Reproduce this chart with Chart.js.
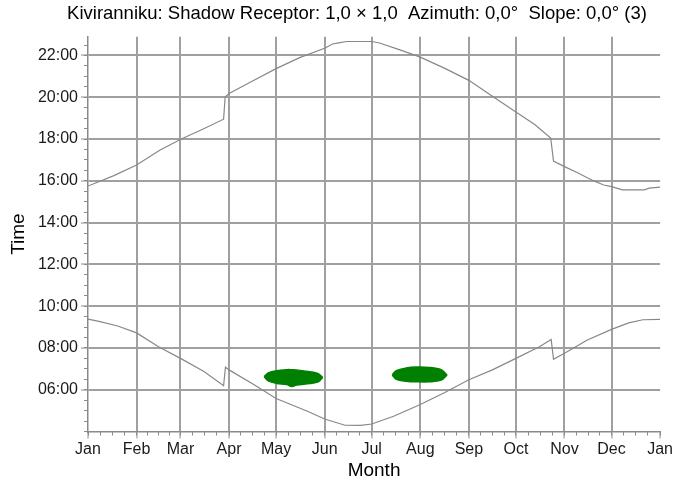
<!DOCTYPE html>
<html><head><meta charset="utf-8">
<script src="https://cdn.jsdelivr.net/npm/chart.js@4.4.1/dist/chart.umd.min.js"></script>
<style>html,body{margin:0;padding:0;background:#fff;}</style>
</head><body>
<canvas id="c" width="674" height="486" style="display:block;width:674px;height:486px"></canvas>
<script>
// ---------- data ----------
const chartTitle = 'Kiviranniku: Shadow Receptor: 1,0 × 1,0  Azimuth: 0,0°  Slope: 0,0° (3)';
const xTitle = 'Month';
const yTitle = 'Time';
const monthStarts = [0, 31, 59, 90, 120, 151, 181, 212, 243, 273, 304, 334, 365];
const monthLabels = ['Jan','Feb','Mar','Apr','May','Jun','Jul','Aug','Sep','Oct','Nov','Dec','Jan'];
const hourTicks = [6, 8, 10, 12, 14, 16, 18, 20, 22];

// sunset (upper curve): day of year, hour
const sunsetDays  = [0, 16.5, 31, 46, 59.5, 73.5, 86.5, 87.5, 90, 105, 120, 135, 151, 156, 160, 165, 181, 186, 199, 212, 228, 243, 258, 273, 285, 295.2, 297, 304, 312, 322, 329, 334, 341, 355, 358, 365];
const sunsetTimes = [15.75, 16.25, 16.76, 17.48, 18.0, 18.48, 18.95, 20.01, 20.18, 20.78, 21.37, 21.9, 22.35, 22.55, 22.6, 22.67, 22.67, 22.6, 22.27, 21.92, 21.37, 20.81, 20.05, 19.3, 18.7, 18.05, 16.95, 16.68, 16.4, 16.02, 15.8, 15.72, 15.57, 15.57, 15.65, 15.7];

// sunrise (lower curve)
const sunriseDays  = [0, 7, 19, 31, 45, 59, 74, 86.5, 87.7, 90, 106, 120, 140, 151, 164, 174, 181, 195, 212, 227, 243, 258, 273, 288, 295.5, 297, 304, 318.6, 334, 345, 354, 365];
const sunriseTimes = [9.38, 9.27, 9.05, 8.72, 8.06, 7.5, 6.87, 6.19, 7.08, 6.95, 6.24, 5.58, 4.97, 4.6, 4.3, 4.29, 4.36, 4.73, 5.29, 5.84, 6.48, 6.95, 7.5, 8.06, 8.4, 7.46, 7.75, 8.38, 8.89, 9.2, 9.35, 9.37];

// shadow flicker periods (green areas): outline top / bottom
const flicker1Days   = [112.4, 115, 120.4, 126.8, 130, 133, 141.6, 146.9, 149.7];
const flicker1Top    = [6.63, 6.80, 6.91, 6.96, 6.96, 6.95, 6.86, 6.77, 6.59];
const flicker1Bottom = [6.63, 6.42, 6.30, 6.25, 6.15, 6.22, 6.30, 6.38, 6.59];
const flicker2Days   = [194.1, 196.7, 203, 209.4, 217.9, 225.3, 229.1];
const flicker2Top    = [6.71, 6.91, 7.04, 7.09, 7.07, 6.96, 6.71];
const flicker2Bottom = [6.71, 6.50, 6.41, 6.38, 6.38, 6.46, 6.71];

// ---------- chart ----------
const pts = (xs, ys) => xs.map((x, i) => ({x: x, y: ys[i]}));
const minorX = [];
for (let m = 0; m < 12; m++) {
  const a = monthStarts[m], len = monthStarts[m + 1] - a;
  for (let k = 0; k < 4; k++) minorX.push(a + len * k / 4);
}
minorX.push(365);
const minorY = [];
for (let h = 4; h <= 22.5; h += 0.5) minorY.push(h);

const FONT = "'Liberation Sans', Arial, sans-serif";
const GRID = '#a0a0a0';
const AXIS = '#8a8a8a';
const CURVE = '#888888';
const GREEN = '#008000';

const shiftTitle = {
  id: 'shiftTitle',
  afterLayout(chart) { if (chart.titleBlock) { chart.titleBlock.left += 40; } }
};

const lineDs = (data) => ({data, borderColor: CURVE, borderWidth: 1.2, pointRadius: 0, tension: 0, fill: false});

new Chart(document.getElementById('c'), {
  type: 'line',
  data: {
    datasets: [
      lineDs(pts(sunsetDays, sunsetTimes)),
      lineDs(pts(sunriseDays, sunriseTimes)),
      {data: pts(flicker1Days, flicker1Top), borderColor: GREEN, backgroundColor: GREEN, borderWidth: 1.5, pointRadius: 0, tension: 0.35, fill: '+1'},
      {data: pts(flicker1Days, flicker1Bottom), borderColor: GREEN, borderWidth: 1.5, pointRadius: 0, tension: 0.35, fill: false},
      {data: pts(flicker2Days, flicker2Top), borderColor: GREEN, backgroundColor: GREEN, borderWidth: 1.5, pointRadius: 0, tension: 0.35, fill: '+1'},
      {data: pts(flicker2Days, flicker2Bottom), borderColor: GREEN, borderWidth: 1.5, pointRadius: 0, tension: 0.35, fill: false}
    ]
  },
  options: {
    responsive: false,
    animation: false,
    layout: {padding: 0},
    plugins: {
      legend: {display: false},
      tooltip: {enabled: false},
      title: {display: true, text: chartTitle, color: '#000', font: {family: FONT, size: 18.5, weight: 'normal'}, padding: {top: 3, bottom: 11.5}}
    },
    scales: {
      x: {
        type: 'linear', position: 'bottom', weight: 1, min: 0, max: 365,
        afterBuildTicks: s => { s.ticks = monthStarts.map(v => ({value: v})); },
        afterFit: s => { s.height = 54.5; },
        ticks: {autoSkip: false, maxRotation: 0, padding: 1, color: '#1a1a1a', font: {family: FONT, size: 16},
          callback: (v, i) => monthLabels[i]},
        grid: {color: c => (c.index === 0 || c.index === 12) ? 'rgba(0,0,0,0)' : GRID, lineWidth: 2,
          tickColor: AXIS, tickWidth: 1, tickLength: 7},
        border: {display: true, color: AXIS, width: 1.5},
        title: {display: true, text: xTitle, color: '#000', font: {family: FONT, size: 19}, padding: {bottom: 4}}
      },
      xMinor: {
        type: 'linear', position: 'bottom', weight: 0, min: 0, max: 365,
        afterBuildTicks: s => { s.ticks = minorX.map(v => ({value: v})); },
        afterFit: s => { s.height = 0; },
        ticks: {display: false},
        grid: {drawOnChartArea: false, tickColor: AXIS, tickWidth: 1, tickLength: 4},
        border: {display: false}
      },
      y: {
        type: 'linear', position: 'left', weight: 1, min: 4, max: 22.9,
        afterBuildTicks: s => { s.ticks = hourTicks.map(v => ({value: v})); },
        afterFit: s => { s.width = 88; },
        ticks: {padding: 3, color: '#1a1a1a', font: {family: FONT, size: 16},
          callback: v => String(v).padStart(2, '0') + ':00'},
        grid: {color: GRID, lineWidth: 2, tickColor: AXIS, tickWidth: 1, tickLength: 7},
        border: {display: true, color: AXIS, width: 1.5},
        title: {display: true, text: yTitle, color: '#000', font: {family: FONT, size: 19}, padding: {top: 7}}
      },
      yMinor: {
        type: 'linear', position: 'left', weight: 0, min: 4, max: 22.9,
        afterBuildTicks: s => { s.ticks = minorY.map(v => ({value: v})); },
        afterFit: s => { s.width = 0; },
        ticks: {display: false},
        grid: {drawOnChartArea: false, tickColor: AXIS, tickWidth: 1, tickLength: 4},
        border: {display: false}
      }
    }
  },
  plugins: [shiftTitle]
});
</script>
</body></html>
